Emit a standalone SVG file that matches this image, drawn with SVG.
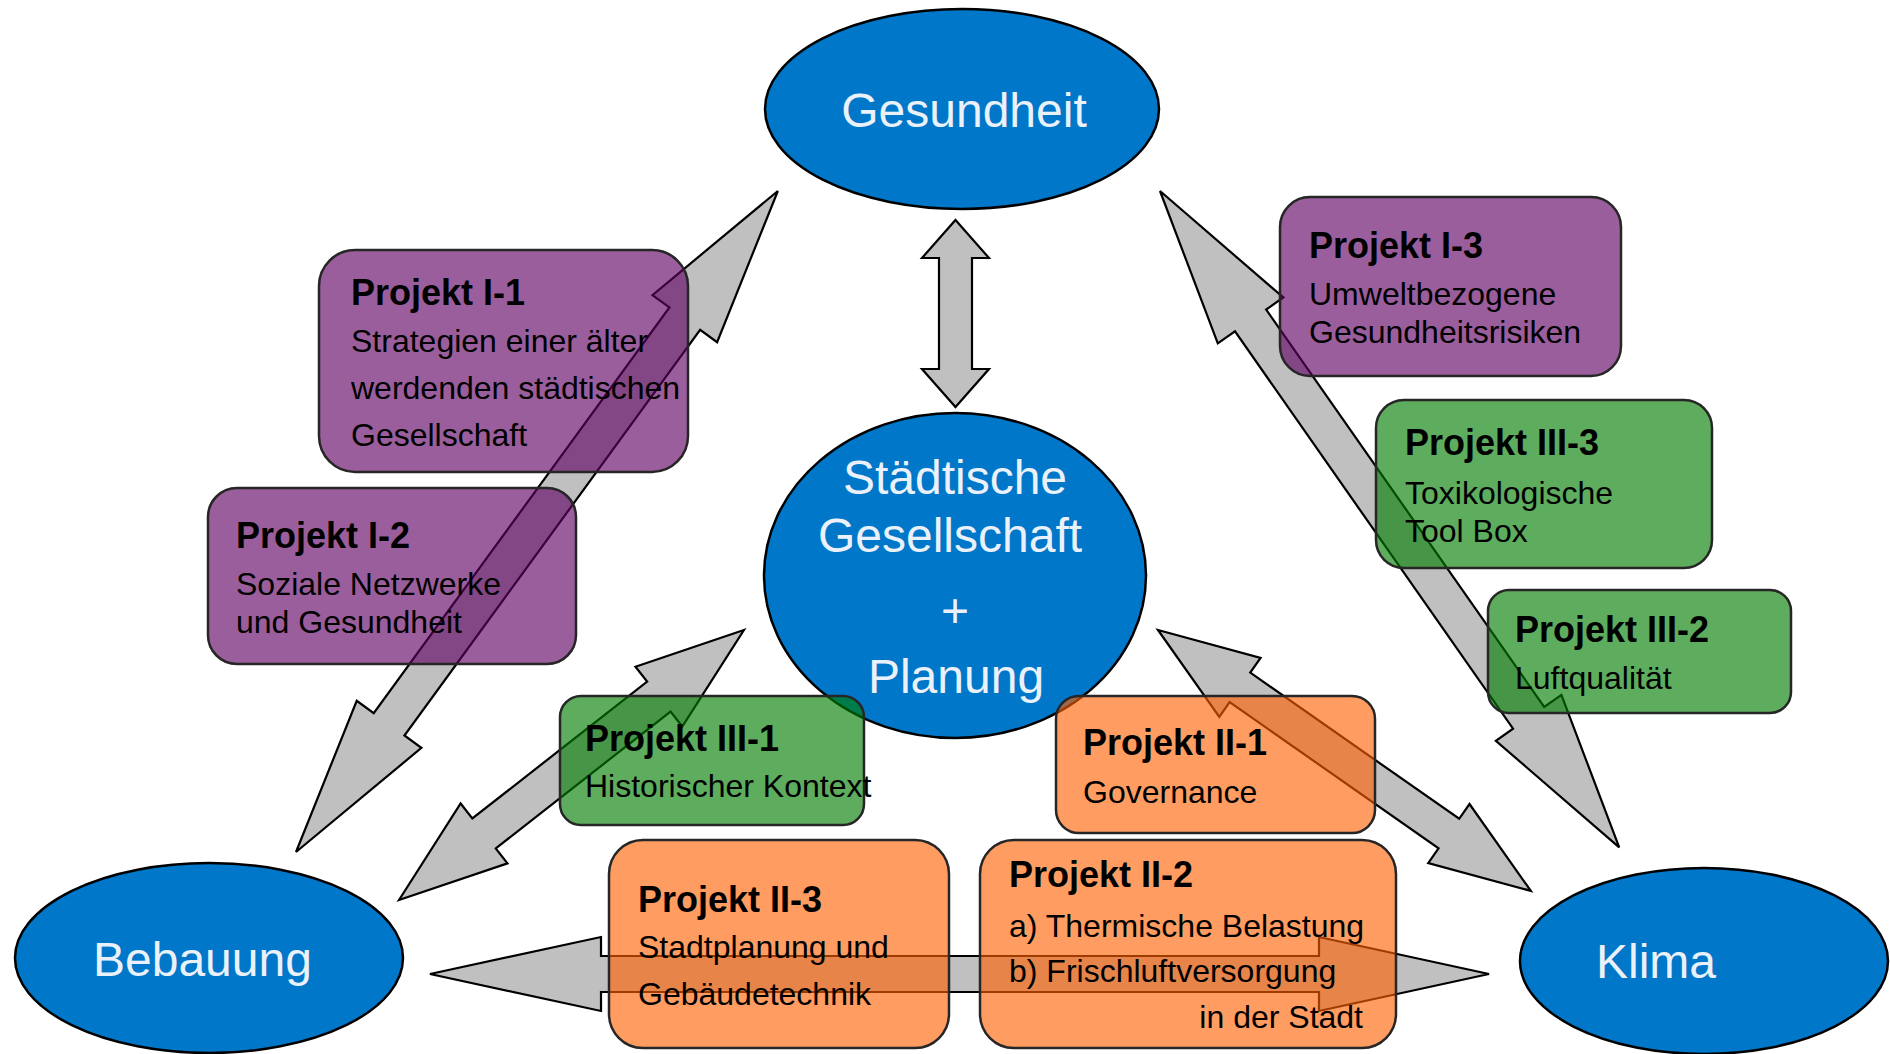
<svg xmlns="http://www.w3.org/2000/svg" width="1890" height="1054" viewBox="0 0 1890 1054">
<style>
.ell{fill:#0077c8;stroke:#000;stroke-width:2.5}
.et{font-family:"Liberation Sans",Arial,sans-serif;font-size:48px;fill:#eaf1fa}
.arr{fill:#c0c0c0;stroke:#000;stroke-width:2.2;stroke-linejoin:miter}
.box{stroke:#262626;stroke-width:2.5}
.pu{fill:#600063;fill-opacity:.63}
.gr{fill:#007d00;fill-opacity:.63}
.or{fill:#ff6000;fill-opacity:.62}
.h{font-family:"Liberation Sans",Arial,sans-serif;font-size:36px;font-weight:bold;fill:#000}
.t{font-family:"Liberation Sans",Arial,sans-serif;font-size:32px;fill:#000}
</style>
<rect width="1890" height="1054" fill="#fff"/>
<g id="gesundheit">
<ellipse class="ell" cx="962" cy="109" rx="197" ry="100"/>
<text class="et" x="964" y="127" text-anchor="middle">Gesundheit</text>
</g>
<g id="zentrum">
<ellipse class="ell" cx="955" cy="575.5" rx="191" ry="162.5"/>
<text class="et" x="955" y="494" text-anchor="middle">Städtische</text>
<text class="et" x="950" y="552" text-anchor="middle">Gesellschaft</text>
<text class="et" x="955" y="627" text-anchor="middle">+</text>
<text class="et" x="956" y="693" text-anchor="middle">Planung</text>
</g>
<g id="bebauung">
<ellipse class="ell" cx="209" cy="958" rx="194" ry="95"/>
<text class="et" x="93" y="976">Bebauung</text>
</g>
<g id="klima">
<ellipse class="ell" cx="1704" cy="961" rx="184" ry="93"/>
<text class="et" x="1596" y="978">Klima</text>
</g>
<g id="connectors">
<path class="arr" transform="translate(296,852) rotate(-53.91)" d="M0,0 L158,-40 L158,-19 L660,-19 L660,-40 L818,0 L660,40 L660,19 L158,19 L158,40 Z"/>
<path class="arr" transform="translate(1160,191) rotate(55.02)" d="M0,0 L158,-40 L158,-19 L643,-19 L643,-40 L801,0 L643,40 L643,19 L158,19 L158,40 Z"/>
<path class="arr" d="M955.5,220 L989,258 L972,258 L972,369 L989,369 L955.5,407 L922,369 L939,369 L939,258 L922,258 Z"/>
<path class="arr" transform="translate(399,900) rotate(-38.05)" d="M0,0 L108,-38 L108,-19 L330,-19 L330,-38 L438,0 L330,38 L330,19 L108,19 L108,38 Z"/>
<path class="arr" transform="translate(1158,630) rotate(34.98)" d="M0,0 L100,-36 L100,-18 L355,-18 L355,-36 L455,0 L355,36 L355,18 L100,18 L100,36 Z"/>
<path class="arr" d="M430,974 L601,937 L601,956 L1319,956 L1319,937 L1489,974 L1319,1011 L1319,992 L601,992 L601,1011 Z"/>
</g>
<g id="projekt-I-1">
<rect class="box pu" x="319" y="250" width="369" height="222" rx="36"/>
<text class="h" x="351" y="305">Projekt I-1</text>
<text class="t" x="351" y="352">Strategien einer älter</text>
<text class="t" x="351" y="399">werdenden städtischen</text>
<text class="t" x="351" y="446">Gesellschaft</text>
</g>
<g id="projekt-I-2">
<rect class="box pu" x="208" y="488" width="368" height="176" rx="29"/>
<text class="h" x="236" y="548">Projekt I-2</text>
<text class="t" x="236" y="595">Soziale Netzwerke</text>
<text class="t" x="236" y="633">und Gesundheit</text>
</g>
<g id="projekt-I-3">
<rect class="box pu" x="1280" y="197" width="341" height="179" rx="30"/>
<text class="h" x="1309" y="258">Projekt I-3</text>
<text class="t" x="1309" y="305">Umweltbezogene</text>
<text class="t" x="1309" y="343">Gesundheitsrisiken</text>
</g>
<g id="projekt-III-3">
<rect class="box gr" x="1376" y="400" width="336" height="168" rx="28"/>
<text class="h" x="1405" y="455">Projekt III-3</text>
<text class="t" x="1405" y="504">Toxikologische</text>
<text class="t" x="1405" y="542">Tool Box</text>
</g>
<g id="projekt-III-2">
<rect class="box gr" x="1488" y="590" width="303" height="123" rx="21"/>
<text class="h" x="1515" y="642">Projekt III-2</text>
<text class="t" x="1515" y="689">Luftqualität</text>
</g>
<g id="projekt-III-1">
<rect class="box gr" x="560" y="696" width="304" height="129" rx="21"/>
<text class="h" x="585" y="751">Projekt III-1</text>
<text class="t" x="585" y="797">Historischer Kontext</text>
</g>
<g id="projekt-II-1">
<rect class="box or" x="1056" y="696" width="319" height="137" rx="23"/>
<text class="h" x="1083" y="755">Projekt II-1</text>
<text class="t" x="1083" y="803">Governance</text>
</g>
<g id="projekt-II-3">
<rect class="box or" x="609" y="840" width="340" height="208" rx="34"/>
<text class="h" x="638" y="912">Projekt II-3</text>
<text class="t" x="638" y="958">Stadtplanung und</text>
<text class="t" x="638" y="1005">Gebäudetechnik</text>
</g>
<g id="projekt-II-2">
<rect class="box or" x="980" y="840" width="416" height="208" rx="34"/>
<text class="h" x="1009" y="887">Projekt II-2</text>
<text class="t" x="1009" y="937">a) Thermische Belastung</text>
<text class="t" x="1009" y="982">b) Frischluftversorgung</text>
<text class="t" x="1363" y="1028" text-anchor="end">in der Stadt</text>
</g>
</svg>
